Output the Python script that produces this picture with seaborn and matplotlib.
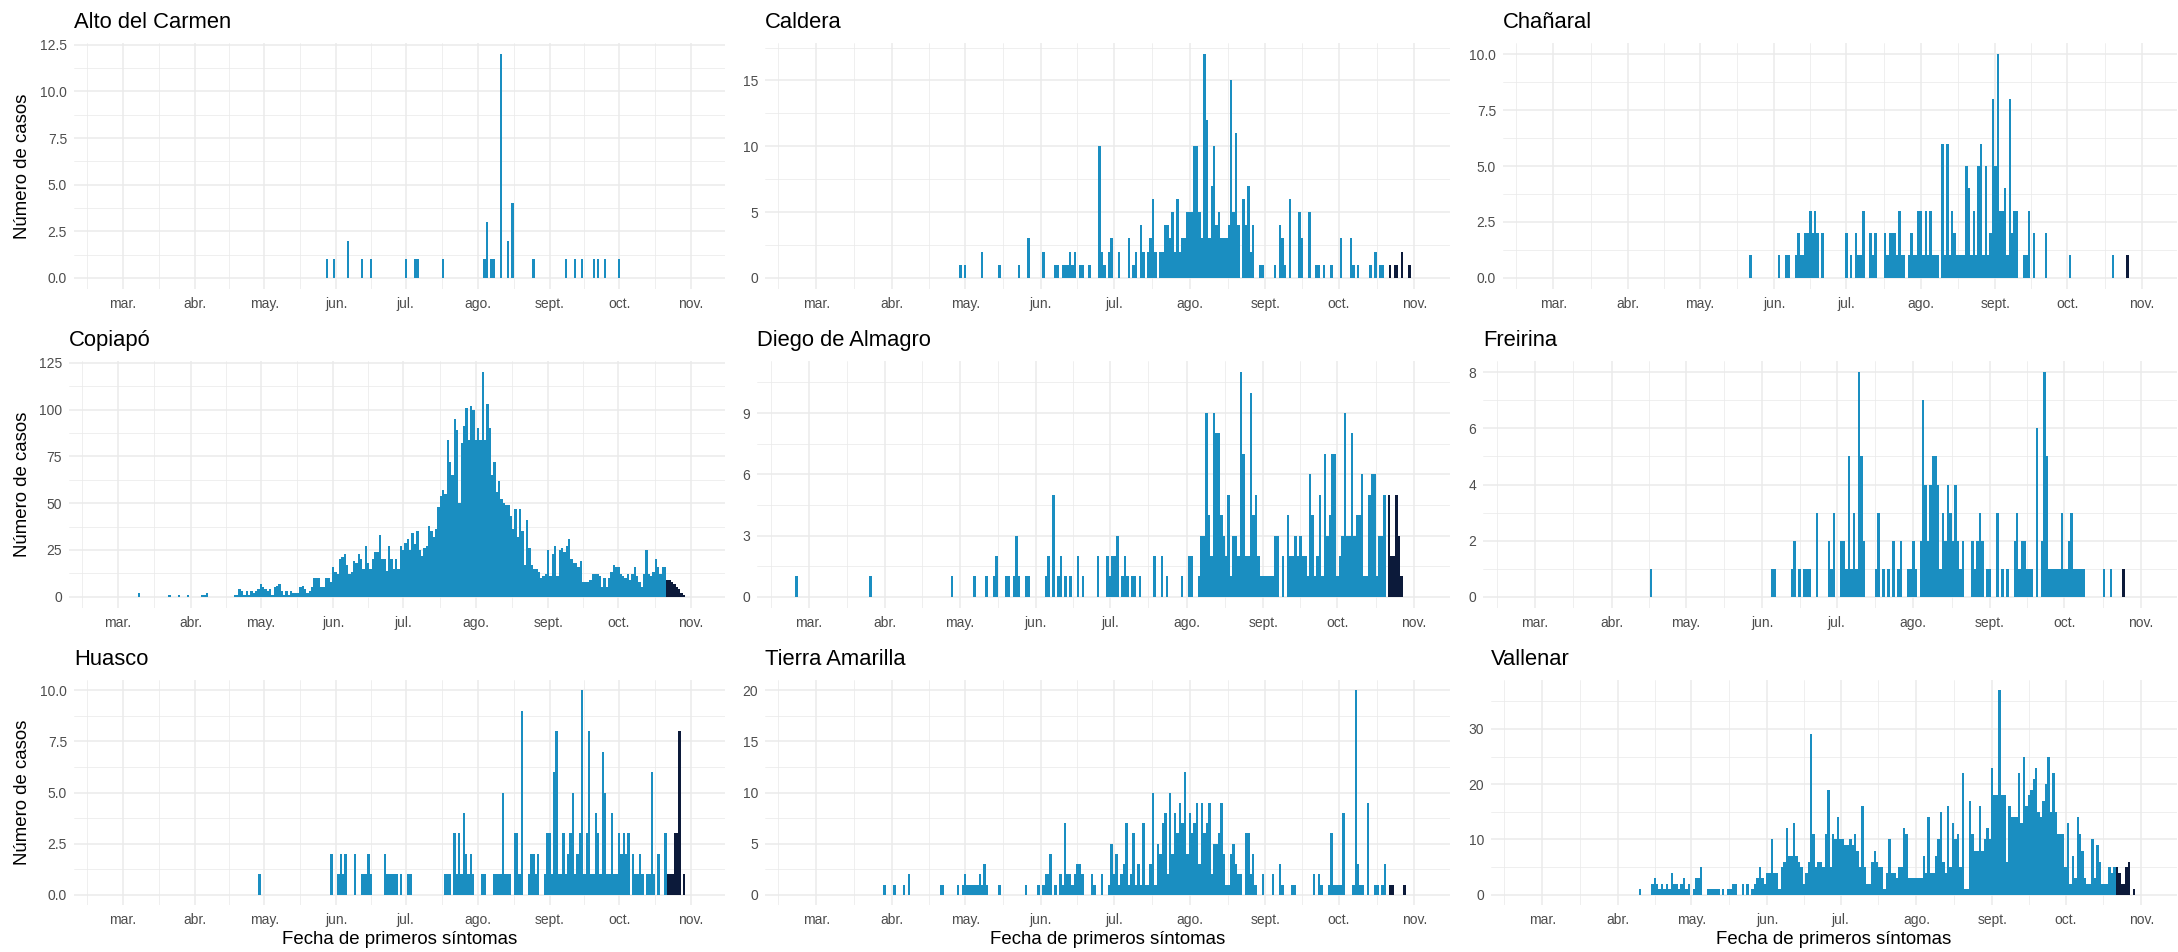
import numpy as np
import pandas as pd
import matplotlib
matplotlib.use("Agg")
import matplotlib.pyplot as plt
import matplotlib.dates as mdates
import seaborn as sns

# ---------------- DATA ----------------
ANIO = "2020"
CORTE_RECIENTE = "2020-10-22"   # last days drawn in dark colour

meses_ticks = ["03-01", "04-01", "05-01", "06-01", "07-01", "08-01", "09-01", "10-01", "11-01"]
meses_labels = ["mar.", "abr.", "may.", "jun.", "jul.", "ago.", "sept.", "oct.", "nov."]

alto_del_carmen = {"05-28": 1, "05-31": 1, "06-06": 2, "06-12": 1, "06-16": 1, "07-01": 1, "07-05": 1,
                   "07-06": 1, "07-17": 1, "08-04": 1, "08-05": 3, "08-07": 1, "08-08": 1, "08-11": 12,
                   "08-14": 2, "08-16": 4, "08-25": 1, "09-08": 1, "09-12": 1, "09-15": 1, "09-20": 1,
                   "09-22": 1, "09-25": 1, "10-01": 1}

caldera = {"04-29": 1, "05-01": 1, "05-08": 2, "05-15": 1, "05-23": 1, "05-27": 3, "06-02": 2, "06-07": 1,
           "06-08": 1, "06-10": 1, "06-11": 1, "06-12": 1, "06-13": 2, "06-14": 1, "06-15": 2, "06-17": 1,
           "06-18": 1, "06-21": 1, "06-25": 10, "06-26": 2, "06-27": 1, "06-29": 2, "06-30": 3, "07-03": 2,
           "07-07": 3, "07-09": 1, "07-10": 2, "07-12": 4, "07-13": 2, "07-15": 2, "07-16": 3, "07-17": 6,
           "07-18": 2, "07-20": 2, "07-21": 2, "07-22": 4, "07-23": 4, "07-24": 3, "07-25": 5, "07-26": 2,
           "07-27": 6, "07-28": 2, "07-29": 3, "07-30": 3, "07-31": 5, "08-01": 5, "08-02": 5, "08-03": 10,
           "08-04": 10, "08-05": 5, "08-06": 3, "08-07": 17, "08-08": 12, "08-09": 3, "08-10": 7, "08-11": 10,
           "08-12": 4, "08-13": 5, "08-14": 3, "08-15": 3, "08-16": 3, "08-17": 4, "08-18": 15, "08-19": 5,
           "08-20": 11, "08-21": 4, "08-23": 6, "08-24": 4, "08-25": 7, "08-26": 2, "08-27": 4, "08-30": 1,
           "08-31": 1, "09-05": 1, "09-07": 4, "09-08": 3, "09-09": 1, "09-11": 6, "09-15": 5, "09-16": 3,
           "09-19": 5, "09-22": 1, "09-23": 1, "09-25": 1, "09-28": 1, "10-02": 3, "10-06": 3, "10-07": 1,
           "10-09": 1, "10-14": 1, "10-16": 2, "10-18": 1, "10-19": 1, "10-22": 1, "10-24": 1, "10-25": 1,
           "10-27": 2, "10-30": 1}

chanaral = {"05-22": 1, "06-03": 1, "06-06": 1, "06-07": 1, "06-10": 1, "06-11": 2, "06-12": 1, "06-13": 1,
            "06-14": 2, "06-15": 2, "06-16": 3, "06-17": 2, "06-18": 3, "06-19": 2, "06-21": 2, "07-01": 2,
            "07-03": 1, "07-05": 2, "07-06": 1, "07-07": 1, "07-08": 3, "07-11": 2, "07-12": 1, "07-13": 2,
            "07-17": 2, "07-18": 1, "07-19": 2, "07-20": 2, "07-21": 2, "07-22": 1, "07-23": 3, "07-24": 1,
            "07-25": 1, "07-27": 1, "07-28": 2, "07-29": 1, "07-30": 1, "07-31": 3, "08-01": 3, "08-02": 1,
            "08-03": 3, "08-04": 1, "08-05": 3, "08-06": 1, "08-07": 1, "08-08": 1, "08-10": 6, "08-11": 1,
            "08-12": 6, "08-13": 1, "08-14": 3, "08-15": 2, "08-16": 1, "08-17": 1, "08-18": 1, "08-19": 1,
            "08-20": 5, "08-21": 4, "08-22": 1, "08-23": 3, "08-24": 1, "08-25": 5, "08-26": 6, "08-27": 1,
            "08-28": 5, "08-29": 1, "08-30": 2, "08-31": 8, "09-01": 5, "09-02": 10, "09-03": 3, "09-04": 3,
            "09-05": 4, "09-06": 1, "09-07": 8, "09-08": 2, "09-09": 3, "09-10": 3, "09-13": 1, "09-14": 1,
            "09-15": 3, "09-17": 2, "09-22": 2, "10-02": 1, "10-20": 1, "10-26": 1}

copiapo_inicial = {"03-10": 2, "03-23": 1, "03-27": 1, "03-31": 1, "04-06": 1, "04-07": 1, "04-08": 2}
copiapo_inicio = "04-20"
copiapo_diario = [1, 1, 4, 3, 1, 3, 1, 3, 2, 3, 4, 7, 5, 4, 3, 4, 1, 5, 6, 7, 3, 1, 3, 1, 3, 2, 2, 2,
                  5, 6, 4, 2, 3, 5, 10, 10, 10, 5, 5, 10, 10, 8,
                  16, 13, 12, 20, 21, 23, 17, 12, 13, 19, 18, 23, 20, 15, 27, 18, 15, 20, 24, 24, 33, 20, 20,
                  14, 27, 20, 15, 20, 15, 27,
                  25, 29, 31, 25, 34, 28, 35, 25, 22, 26, 27, 38, 35, 32, 36,
                  48, 54, 57, 55, 84, 72, 65, 95, 89, 50, 82, 91, 101, 84, 102, 100,
                  84, 90, 84, 120, 84, 103, 90, 65, 72, 56, 62, 52, 50, 49, 49, 43, 36, 47, 32,
                  47, 35, 17, 41, 26, 17, 15, 15, 13, 10, 11, 12, 25, 11, 23, 27, 11, 25, 26, 24,
                  27, 31, 20, 18, 18, 16, 19, 8, 8, 8, 9, 12, 12, 12, 11, 5, 10, 5, 10, 13,
                  17, 16, 16, 12, 11, 10, 12, 9, 12, 16, 11, 8, 5, 12, 25, 12, 11, 13, 20, 16,
                  12, 16, 16, 9, 9, 8, 7, 5, 4, 2, 1]

diego_de_almagro = {"02-25": 1, "03-26": 1, "04-28": 1, "05-07": 1, "05-12": 1, "05-15": 1, "05-16": 2,
                    "05-20": 1, "05-21": 1, "05-23": 1, "05-24": 3, "05-25": 1, "05-28": 1, "05-29": 1,
                    "06-05": 1, "06-06": 2, "06-08": 5, "06-10": 1, "06-11": 2, "06-13": 1, "06-15": 1,
                    "06-18": 2, "06-20": 1, "06-26": 2, "06-30": 2, "07-01": 1, "07-02": 2, "07-03": 2,
                    "07-04": 3, "07-06": 1, "07-07": 2, "07-08": 1, "07-10": 1, "07-11": 1, "07-13": 1,
                    "07-19": 2, "07-22": 2, "07-24": 1, "07-30": 1, "08-02": 2, "08-03": 2, "08-06": 1,
                    "08-07": 3, "08-08": 3, "08-09": 9, "08-10": 4, "08-11": 2, "08-12": 9, "08-13": 8,
                    "08-14": 8, "08-15": 4, "08-16": 3, "08-17": 2, "08-18": 5, "08-19": 1, "08-20": 3,
                    "08-21": 3, "08-22": 2, "08-23": 11, "08-24": 7, "08-25": 2, "08-26": 2, "08-27": 10,
                    "08-28": 4, "08-29": 5, "08-30": 2, "08-31": 1, "09-01": 1, "09-02": 1, "09-03": 1,
                    "09-04": 1, "09-05": 1, "09-06": 3, "09-07": 3, "09-09": 2, "09-11": 4, "09-12": 2,
                    "09-13": 2, "09-14": 3, "09-15": 2, "09-16": 3, "09-17": 2, "09-18": 2, "09-19": 1,
                    "09-20": 6, "09-21": 4, "09-22": 1, "09-23": 2, "09-24": 5, "09-25": 1, "09-26": 7,
                    "09-27": 3, "09-28": 4, "09-29": 7, "09-30": 7, "10-01": 1, "10-02": 2, "10-03": 3,
                    "10-04": 9, "10-05": 3, "10-06": 3, "10-07": 8, "10-08": 3, "10-09": 4, "10-10": 4,
                    "10-11": 6, "10-12": 1, "10-13": 1, "10-14": 5, "10-15": 6, "10-16": 6, "10-17": 1,
                    "10-18": 3, "10-19": 3, "10-20": 5, "10-22": 5, "10-23": 2, "10-24": 2, "10-25": 5,
                    "10-26": 3, "10-27": 1}

freirina = {"04-17": 1, "06-05": 1, "06-06": 1, "06-13": 1, "06-14": 2, "06-16": 1, "06-18": 1, "06-19": 1,
            "06-20": 1, "06-23": 3, "06-28": 2, "06-29": 1, "06-30": 3, "07-03": 2, "07-04": 2, "07-05": 1,
            "07-06": 5, "07-07": 1, "07-08": 3, "07-09": 1, "07-10": 8, "07-11": 5, "07-12": 2, "07-17": 1,
            "07-18": 3, "07-20": 1, "07-22": 1, "07-24": 2, "07-26": 1, "07-27": 2, "07-30": 1, "07-31": 1,
            "08-01": 2, "08-02": 1, "08-04": 2, "08-05": 7, "08-06": 4, "08-07": 2, "08-08": 4, "08-09": 5,
            "08-10": 5, "08-11": 4, "08-12": 1, "08-13": 3, "08-14": 2, "08-15": 4, "08-16": 3, "08-17": 2,
            "08-18": 4, "08-19": 2, "08-20": 1, "08-21": 2, "08-25": 2, "08-26": 1, "08-27": 2, "08-28": 3,
            "08-29": 2, "08-31": 1, "09-01": 1, "09-04": 3, "09-06": 1, "09-08": 1, "09-11": 2, "09-12": 3,
            "09-13": 1, "09-14": 2, "09-15": 2, "09-16": 1, "09-17": 1, "09-18": 1, "09-20": 6, "09-22": 2,
            "09-23": 8, "09-24": 5, "09-25": 1, "09-26": 1, "09-27": 1, "09-28": 1, "09-29": 1, "09-30": 3,
            "10-01": 1, "10-02": 1, "10-03": 2, "10-04": 3, "10-05": 1, "10-06": 1, "10-07": 1, "10-08": 1,
            "10-09": 1, "10-17": 1, "10-20": 1, "10-25": 1}

huasco = {"04-29": 1, "05-30": 2, "06-02": 1, "06-03": 2, "06-04": 1, "06-05": 2, "06-09": 2, "06-12": 1,
          "06-13": 1, "06-14": 1, "06-15": 2, "06-16": 1, "06-22": 2, "06-23": 1, "06-24": 1, "06-25": 1,
          "06-26": 1, "06-27": 1, "06-29": 1, "07-02": 1, "07-03": 1, "07-18": 1, "07-19": 1, "07-20": 1,
          "07-22": 3, "07-23": 1, "07-24": 3, "07-25": 1, "07-26": 4, "07-27": 2, "07-28": 1, "07-29": 2,
          "07-30": 1, "08-03": 1, "08-04": 1, "08-08": 1, "08-09": 1, "08-10": 1, "08-11": 1, "08-12": 5,
          "08-13": 1, "08-14": 1, "08-15": 1, "08-17": 3, "08-18": 3, "08-19": 1, "08-20": 9, "08-23": 1,
          "08-24": 2, "08-25": 2, "08-26": 1, "08-27": 2, "08-30": 1, "08-31": 3, "09-01": 3, "09-02": 1,
          "09-03": 6, "09-04": 8, "09-05": 1, "09-06": 1, "09-07": 3, "09-08": 1, "09-09": 2, "09-10": 3,
          "09-11": 5, "09-12": 1, "09-13": 2, "09-14": 3, "09-15": 10, "09-16": 1, "09-17": 3, "09-18": 8,
          "09-19": 1, "09-20": 1, "09-21": 4, "09-22": 3, "09-23": 1, "09-24": 7, "09-25": 5, "09-26": 1,
          "09-27": 1, "09-28": 4, "09-29": 1, "09-30": 1, "10-01": 3, "10-02": 2, "10-03": 3, "10-04": 2,
          "10-05": 3, "10-07": 2, "10-08": 1, "10-09": 1, "10-10": 2, "10-11": 1, "10-13": 1, "10-14": 1,
          "10-15": 6, "10-16": 1, "10-18": 2, "10-21": 3, "10-22": 1, "10-23": 1, "10-24": 1, "10-25": 3,
          "10-26": 3, "10-27": 8, "10-29": 1}

tierra_amarilla = {"03-29": 1, "04-02": 1, "04-06": 1, "04-08": 2, "04-21": 1, "04-22": 1, "04-28": 1,
                   "04-30": 1, "05-01": 2, "05-02": 1, "05-03": 1, "05-04": 1, "05-05": 1, "05-06": 1,
                   "05-07": 2, "05-08": 1, "05-09": 3, "05-10": 1, "05-15": 1, "05-26": 1, "05-31": 1,
                   "06-02": 1, "06-03": 2, "06-04": 2, "06-05": 4, "06-07": 1, "06-09": 2, "06-10": 1,
                   "06-11": 7, "06-12": 2, "06-13": 2, "06-14": 1, "06-15": 2, "06-16": 3, "06-17": 3,
                   "06-18": 2, "06-22": 2, "06-23": 1, "06-26": 2, "06-29": 1, "06-30": 5, "07-01": 2,
                   "07-02": 4, "07-03": 1, "07-04": 2, "07-05": 3, "07-06": 7, "07-07": 1, "07-08": 2,
                   "07-09": 6, "07-10": 1, "07-11": 3, "07-12": 1, "07-13": 7, "07-14": 1, "07-15": 1,
                   "07-16": 3, "07-17": 10, "07-18": 1, "07-19": 5, "07-20": 4, "07-21": 7, "07-22": 8,
                   "07-23": 2, "07-24": 10, "07-25": 4, "07-26": 8, "07-27": 6, "07-28": 9, "07-29": 7,
                   "07-30": 12, "07-31": 4, "08-01": 8, "08-02": 6, "08-03": 7, "08-04": 9, "08-05": 3,
                   "08-06": 9, "08-07": 6, "08-08": 7, "08-09": 9, "08-10": 2, "08-11": 5, "08-12": 5,
                   "08-13": 6, "08-14": 9, "08-15": 4, "08-16": 1, "08-17": 1, "08-18": 4, "08-19": 5,
                   "08-20": 3, "08-21": 2, "08-22": 2, "08-24": 6, "08-25": 6, "08-26": 2, "08-27": 4,
                   "08-28": 1, "08-31": 2, "09-04": 2, "09-07": 3, "09-08": 1, "09-12": 1, "09-13": 1,
                   "09-21": 2, "09-23": 2, "09-24": 1, "09-27": 1, "09-28": 6, "09-29": 1, "09-30": 1,
                   "10-01": 1, "10-02": 1, "10-03": 8, "10-07": 1, "10-08": 20, "10-09": 3, "10-10": 1,
                   "10-11": 1, "10-13": 9, "10-16": 1, "10-17": 1, "10-19": 1, "10-20": 3, "10-22": 1,
                   "10-23": 1, "10-28": 1}

vallenar_inicio = "04-10"
vallenar_diario = [1, 0, 0, 0, 0, 2, 3, 2, 1, 2,
                   1, 2, 1, 4, 2, 2, 1, 2, 3, 1,
                   2, 0, 1, 3, 3, 5, 0, 0, 1, 1,
                   1, 1, 1, 0, 1, 0, 1, 1, 2, 2,
                   0, 0, 2, 0, 2, 0, 1, 2, 3, 5,
                   3, 2, 4, 4, 10, 4, 4, 1, 5, 6,
                   12, 7, 7, 13, 7, 6, 5, 2, 4, 6,
                   29, 11, 5, 6, 6, 5, 11, 19, 5, 11,
                   10, 14, 10, 10, 9, 9, 10, 9, 11, 8,
                   5, 16, 5, 2, 2, 6, 8, 6, 5, 5,
                   1, 4, 10, 4, 4, 3, 5, 5, 12, 11,
                   3, 3, 3, 3, 3, 3, 7, 4, 14, 4,
                   4, 7, 10, 15, 6, 4, 16, 5, 13, 10,
                   11, 5, 22, 1, 1, 17, 11, 8, 8, 16,
                   8, 10, 12, 10, 23, 18, 18, 37, 18, 18,
                   6, 16, 14, 14, 14, 22, 13, 25, 16, 18,
                   19, 21, 23, 15, 14, 17, 20, 25, 15, 22,
                   15, 11, 11, 11, 5, 13, 2, 7, 3, 14,
                   11, 8, 3, 2, 2, 10, 3, 9, 6, 2,
                   2, 2, 5, 4, 5, 5, 4, 2, 2, 5,
                   6, 0, 1]

titulos = ["Alto del Carmen", "Caldera", "Chañaral", "Copiapó", "Diego de Almagro", "Freirina",
           "Huasco", "Tierra Amarilla", "Vallenar"]
y_ticks = [[0, 2.5, 5, 7.5, 10, 12.5], [0, 5, 10, 15], [0, 2.5, 5, 7.5, 10],
           [0, 25, 50, 75, 100, 125], [0, 3, 6, 9], [0, 2, 4, 6, 8],
           [0, 2.5, 5, 7.5, 10], [0, 5, 10, 15, 20], [0, 10, 20, 30]]
y_fmt = ["{:.1f}", "{:.0f}", "{:.1f}", "{:.0f}", "{:.0f}", "{:.0f}", "{:.1f}", "{:.0f}", "{:.0f}"]

COLOR_CONSOLIDADO = "#1a8ec1"
COLOR_RECIENTE = "#0c1a3a"


def desde_dict(d):
    return pd.DataFrame({"fecha": pd.to_datetime([f"{ANIO}-{k}" for k in d]), "casos": list(d.values())})


def desde_diario(inicio, valores):
    return pd.DataFrame({"fecha": pd.date_range(f"{ANIO}-{inicio}", periods=len(valores), freq="D"),
                         "casos": valores})


datos = [desde_dict(alto_del_carmen), desde_dict(caldera), desde_dict(chanaral),
         pd.concat([desde_dict(copiapo_inicial), desde_diario(copiapo_inicio, copiapo_diario)]),
         desde_dict(diego_de_almagro), desde_dict(freirina), desde_dict(huasco),
         desde_dict(tierra_amarilla), desde_diario(vallenar_inicio, vallenar_diario)]

# ---------------- LAYOUT (pixel boxes: left, right, top, bottom) ----------------
W, H = 2178, 952
cajas = [(74, 725, 43, 289), (765, 1450, 43, 289), (1503, 2177, 43, 289),
         (69, 725, 361, 608), (757, 1450, 361, 608), (1483, 2177, 361, 608),
         (74, 725, 680, 905), (765, 1450, 680, 905), (1491, 2177, 680, 905)]

sns.set_style("white")
plt.rcParams["font.family"] = ["Liberation Sans", "DejaVu Sans"]

fig = plt.figure(figsize=(W / 100, H / 100), dpi=100)
fig.patch.set_facecolor("white")

corte = pd.Timestamp(CORTE_RECIENTE)
x_major = mdates.date2num(pd.to_datetime([f"{ANIO}-{m}" for m in meses_ticks]))
x_minor = list((x_major[:-1] + x_major[1:]) / 2) + [x_major[0] - (x_major[1] - x_major[0]) / 2]
x_lim = (x_major[0] - 21.0, x_major[-1] + 14.6)
GRID = "#ebebeb"

for i, (titulo, df, yt, fmt, (l, r, t, b)) in enumerate(zip(titulos, datos, y_ticks, y_fmt, cajas)):
    ax = fig.add_axes([l / W, 1 - b / H, (r - l) / W, (b - t) / H])
    df = df.copy()
    df["x"] = mdates.date2num(df["fecha"])
    df["periodo"] = np.where(df["fecha"] >= corte, "reciente", "consolidado")
    sns.histplot(data=df, x="x", weights="casos", discrete=True, shrink=1.0, hue="periodo",
                 palette={"consolidado": COLOR_CONSOLIDADO, "reciente": COLOR_RECIENTE},
                 multiple="layer", alpha=1, linewidth=0, antialiased=False, legend=False, ax=ax)
    ymax = df["casos"].max()
    ylim = (-0.05 * ymax, 1.05 * ymax)
    ax.set_xlim(*x_lim)
    ax.set_ylim(*ylim)
    ax.set_xticks(x_major)
    ax.set_xticklabels(meses_labels)
    ax.set_xticks(x_minor, minor=True)
    ax.set_yticks(yt)
    ax.set_yticklabels([fmt.format(v) for v in yt])
    step = yt[1] - yt[0]
    ym = [v for v in np.arange(yt[0] - step / 2, ylim[1], step) if ylim[0] <= v <= ylim[1]]
    ax.set_yticks(ym, minor=True)
    ax.grid(True, which="major", color=GRID, linewidth=1.1)
    ax.grid(True, which="minor", color=GRID, linewidth=0.55)
    ax.set_axisbelow(True)
    for s in ax.spines.values():
        s.set_visible(False)
    ax.tick_params(which="both", length=0, labelsize=10, labelcolor="#4d4d4d")
    ax.tick_params(axis="x", pad=6)
    ax.tick_params(axis="y", pad=5)
    ax.set_xlabel("")
    ax.set_ylabel("")
    ax.set_title(titulo, loc="left", fontsize=15.8, pad=10.5, color="black")
    if i % 3 == 0:
        fig.text(23 / W, 1 - ((t + b) / 2) / H, "Número de casos", rotation=90,
                 ha="center", va="center", fontsize=13.4, color="black")
    if i >= 6:
        fig.text(((l + r) / 2) / W, 1 - 939 / H, "Fecha de primeros síntomas",
                 ha="center", va="center", fontsize=13.4, color="black")

fig.savefig("out.png", dpi=100, facecolor="white")
